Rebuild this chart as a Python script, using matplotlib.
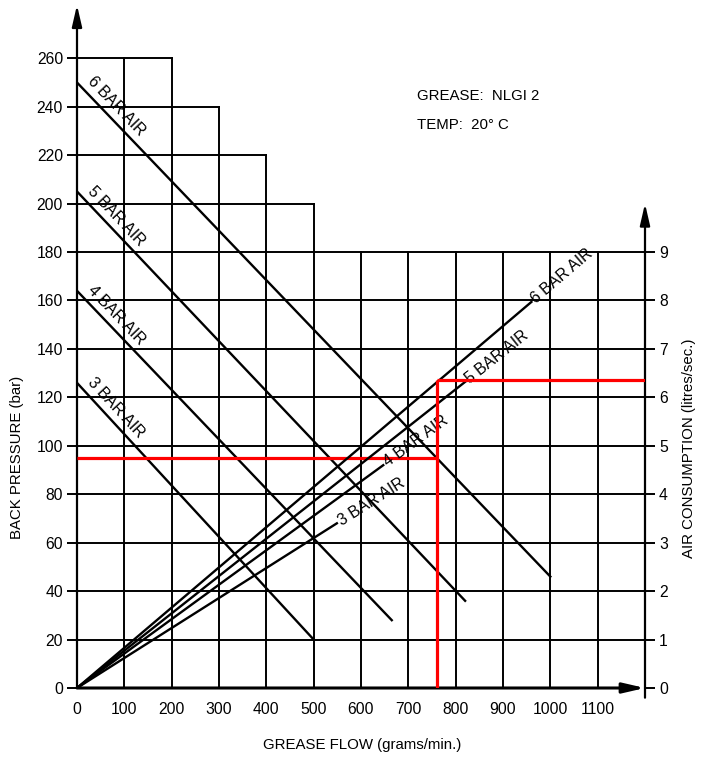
import numpy as np
import matplotlib
matplotlib.use('Agg')
import matplotlib.pyplot as plt
from matplotlib import font_manager

# narrow CAD-like lettering: use a narrow face when there is one
installed = {f.name for f in font_manager.fontManager.ttflist}
if 'Liberation Sans Narrow' in installed:
    FAMILY, FS, FS_TICK = 'Liberation Sans Narrow', 12, 12
else:
    FAMILY, FS, FS_TICK = 'Liberation Sans', 10.8, 11.3
plt.rcParams['font.family'] = [FAMILY, 'DejaVu Sans']

# back pressure curves (bar, left axis) vs grease flow (g/min)
bp_names = ['6 BAR AIR', '5 BAR AIR', '4 BAR AIR', '3 BAR AIR']
bp_start = [250, 205, 164, 126]
bp_end_flow = [1000, 820, 665, 500]
bp_end = [46, 36, 28, 20]

# air consumption curves (litres/sec, right axis) vs grease flow
air_names = ['6 BAR AIR', '5 BAR AIR', '4 BAR AIR', '3 BAR AIR']
air_end_flow = [960, 820, 647, 549]
air_end = [7.97, 6.32, 4.6, 3.4]

# worked example (red)
ex_flow = 760
ex_pressure = 95
ex_air = 6.35

flow_ticks = list(range(0, 1200, 100))
bp_ticks = list(range(0, 280, 20))
air_ticks = list(range(0, 10))

# stepped grid above 180 bar
upper_levels = [200, 220, 240, 260]
upper_reach = [500, 400, 300, 200]

x_max = 1200
y_max = 282
scale = 20  # bar per l/s on the two axes

fig = plt.figure(figsize=(7.09, 7.57), dpi=100)
ax = fig.add_axes([77 / 709, 69 / 757, 568 / 709, 683 / 757])
ax.set_xlim(0, x_max)
ax.set_ylim(0, y_max)
ax2 = ax.twinx()
ax2.set_ylim(0, y_max / scale)

for s in ax.spines.values():
    s.set_visible(False)
for s in ax2.spines.values():
    s.set_visible(False)

gkw = dict(color='black', lw=1.4, zorder=1)
# horizontal grid
for y in bp_ticks[1:]:
    if y <= 180:
        ax.plot([0, x_max], [y, y], **gkw)
    else:
        ax.plot([0, upper_reach[upper_levels.index(y)]], [y, y], **gkw)
# vertical grid
for x in flow_ticks[1:]:
    top = 180
    for lev, reach in zip(upper_levels, upper_reach):
        if x <= reach:
            top = max(top, lev)
    ax.plot([x, x], [0, top], **gkw)

# axes with arrows
akw = dict(arrowstyle='-|>,head_length=1.3,head_width=0.3', mutation_scale=10,
           lw=1.6, color='black', shrinkA=0, shrinkB=0)
ax.annotate('', xy=(0, y_max), xytext=(0, 0), arrowprops=akw, annotation_clip=False)
ax.annotate('', xy=(x_max, 0), xytext=(0, 0), arrowprops=dict(akw, lw=2.2), annotation_clip=False)
ax.annotate('', xy=(x_max, 200), xytext=(x_max, -4), arrowprops=akw, annotation_clip=False)

# back pressure lines with labels
for name, y0, xe, ye in zip(bp_names, bp_start, bp_end_flow, bp_end):
    ax.plot([0, xe], [y0, ye], color='black', lw=1.7, zorder=3)
    data_ang = np.degrees(np.arctan2(ye - y0, xe))
    ang = ax.transData.transform_angles(np.array([data_ang]), np.array([[0, y0]]))[0]
    th = np.radians(ang)
    f0 = 10
    yy = y0 + (ye - y0) * f0 / xe
    off = 3
    ax.annotate(name, xy=(f0, yy), xytext=(-np.sin(th) * off, np.cos(th) * off),
                textcoords='offset points', rotation=ang, rotation_mode='anchor',
                ha='left', va='bottom', fontsize=FS + 0.6, zorder=4)

# air consumption lines with labels
for name, xe, ye in zip(air_names, air_end_flow, air_end):
    ax2.plot([0, xe], [0, ye], color='black', lw=1.7, zorder=3)
    data_ang = np.degrees(np.arctan2(ye, xe))
    ang = ax2.transData.transform_angles(np.array([data_ang]), np.array([[xe, ye]]))[0]
    th = np.radians(ang)
    off = 2
    ax2.annotate(name, xy=(xe, ye), xytext=(np.cos(th) * off, np.sin(th) * off),
                 textcoords='offset points', rotation=ang, rotation_mode='anchor',
                 ha='left', va='center', fontsize=FS + 0.6, zorder=4)

# worked example
rkw = dict(color='#ff0000', lw=2.3, zorder=6, solid_capstyle='butt')
ax.plot([0, ex_flow], [ex_pressure, ex_pressure], **rkw)
ax2.plot([ex_flow, ex_flow], [0, ex_air], **rkw)
ax2.plot([ex_flow, x_max], [ex_air, ex_air], **rkw)

ax.text(719, 244.5, 'GREASE:  NLGI 2', ha='left', va='center', fontsize=FS)
ax.text(719, 232.5, 'TEMP:  20° C', ha='left', va='center', fontsize=FS)

ax.set_xticks(flow_ticks)
ax.set_yticks(bp_ticks)
ax2.set_yticks(air_ticks)
ax.tick_params(axis='x', length=0, pad=10, labelsize=FS_TICK)
ax.tick_params(axis='y', length=7, width=1.4, pad=3, labelsize=FS_TICK, direction='out')
ax2.tick_params(axis='y', length=7, width=1.4, pad=3, labelsize=FS_TICK, direction='out')

fig.text(17 / 709, 1 - 457 / 757, 'BACK PRESSURE (bar)', rotation=90,
         ha='center', va='center', fontsize=FS)
fig.text(689 / 709, 1 - 448 / 757, 'AIR CONSUMPTION (litres/sec.)', rotation=90,
         ha='center', va='center', fontsize=FS)
fig.text(362 / 709, 1 - 745 / 757, 'GREASE FLOW (grams/min.)',
         ha='center', va='center', fontsize=FS)

fig.savefig('out.png', dpi=100)
